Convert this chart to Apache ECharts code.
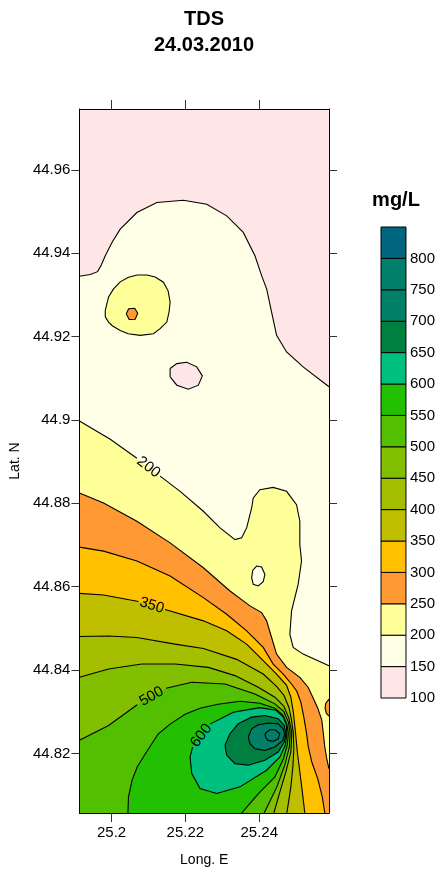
<!DOCTYPE html>
<html><head><meta charset="utf-8">
<script src="https://cdn.jsdelivr.net/npm/echarts@6/dist/echarts.min.js"></script>
<style>html,body{margin:0;padding:0;background:#fff}#c{width:438px;height:872px}</style>
</head><body><div id="c"></div>
<script>
// ---------- data ----------
const LON_RANGE = [25.1913, 25.2589];
const LAT_RANGE = [44.8057, 44.9746];
const LON_TICKS = [25.2, 25.22, 25.24];
const LAT_TICKS = [44.82, 44.84, 44.86, 44.88, 44.9, 44.92, 44.94, 44.96];
const LEVEL_BOUNDS = [100,150,200,250,300,350,400,450,500,550,600,650,700,750,800,850];
const BAR_LABELS = [100,150,200,250,300,350,400,450,500,550,600,650,700,750,800];
const BAND_COLORS = ['#FFE6E6','#FFFFE8','#FFFF99','#FF9933','#FFC000','#BFBF00','#A3BF00','#82BF00','#52BF00','#22C000','#00C080','#008040','#008066','#007F6A','#006680'];

// contour lines [lon, lat]
const C150 = [[25.1913,44.93448],[25.19424,44.93491],[25.19622,44.93558],[25.19722,44.93718],[25.19830,44.93940],[25.20019,44.94268],[25.20235,44.94578],[25.20686,44.94977],[25.21227,44.95216],[25.21946,44.95271],[25.22578,44.95176],[25.23119,44.94896],[25.23568,44.94499],[25.23884,44.93940],[25.24065,44.93462],[25.24200,44.93145],[25.24335,44.92588],[25.24470,44.92029],[25.24741,44.91632],[25.25189,44.91274],[25.2589,44.90796]];
const HOLE_LT150 = [[25.21586,44.91233],[25.21768,44.91352],[25.22038,44.91383],[25.22308,44.91274],[25.22459,44.91058],[25.22351,44.90834],[25.22081,44.90738],[25.21768,44.90834],[25.21586,44.91035]];
const ISLAND200 = [[25.19830,44.92626],[25.19919,44.92953],[25.20054,44.93145],[25.20235,44.93312],[25.20459,44.93424],[25.20695,44.93479],[25.20957,44.93479],[25.21181,44.93431],[25.21405,44.93305],[25.21532,44.93097],[25.21586,44.92827],[25.21559,44.92595],[25.21497,44.92349],[25.21316,44.92189],[25.21135,44.92069],[25.20776,44.92029],[25.20451,44.92069],[25.20235,44.92148],[25.20019,44.92260],[25.19919,44.92349],[25.19830,44.92476]];
const DOT250 = [[25.20397,44.92547],[25.20465,44.92667],[25.20627,44.92679],[25.20708,44.92559],[25.20641,44.92416],[25.20478,44.92411]];
const C200 = [[25.1913,44.89974],[25.19965,44.89536],[25.20686,44.89082],[25.21316,44.88652],[25.21857,44.88287],[25.22487,44.87809],[25.22938,44.87410],[25.23343,44.87130],[25.23524,44.87171],[25.23659,44.87410],[25.23795,44.87888],[25.23838,44.88127],[25.24019,44.88325],[25.24378,44.88382],[25.24741,44.88287],[25.25011,44.87967],[25.25100,44.87570],[25.25100,44.87011],[25.25146,44.86614],[25.25054,44.86055],[25.24876,44.85419],[25.24830,44.84860],[25.24919,44.84542],[25.25189,44.84382],[25.2589,44.84105]];
const HOLE_LT200 = [[25.23822,44.86389],[25.23930,44.86495],[25.24065,44.86471],[25.24154,44.86294],[25.24108,44.86119],[25.23973,44.86017],[25.23838,44.86055],[25.23795,44.86215]];
const C250 = [[25.1913,44.88246],[25.19784,44.88007],[25.20686,44.87570],[25.21586,44.87051],[25.22487,44.86454],[25.23208,44.85897],[25.23749,44.85539],[25.24065,44.85379],[25.24200,44.85180],[25.24335,44.84781],[25.24470,44.84382],[25.24741,44.84064],[25.25100,44.83825],[25.25324,44.83587],[25.25451,44.83348],[25.25586,44.83085],[25.25695,44.82798],[25.25735,44.82487],[25.25776,44.82153],[25.25830,44.81866],[25.2589,44.81627]];
const BUMP250 = [[25.2589,44.83300],[25.25803,44.83204],[25.25784,44.83085],[25.25816,44.82965],[25.2589,44.82894]];
const C300 = [[25.1913,44.86949],[25.19784,44.86853],[25.20686,44.86614],[25.21586,44.86256],[25.22487,44.85737],[25.23119,44.85338],[25.23659,44.84941],[25.24108,44.84542],[25.24378,44.84143],[25.24649,44.83904],[25.24876,44.83665],[25.25019,44.83491],[25.25127,44.83228],[25.25208,44.82870],[25.25281,44.82487],[25.25330,44.82153],[25.25424,44.81794],[25.25586,44.81388],[25.25708,44.80958],[25.25776,44.8057]];
const C350 = [[25.1913,44.85840],[25.19784,44.85802],[25.20730,44.85646],[25.21451,44.85450],[25.22487,44.85180],[25.23119,44.84941],[25.23659,44.84621],[25.24108,44.84225],[25.24470,44.83904],[25.24741,44.83634],[25.24857,44.83348],[25.24924,44.82989],[25.24984,44.82487],[25.25032,44.82033],[25.25100,44.81556],[25.25168,44.81078],[25.25235,44.8057]];
const C400 = [[25.1913,44.84805],[25.19919,44.84817],[25.20686,44.84781],[25.21722,44.84621],[25.22487,44.84518],[25.23389,44.84256],[25.24108,44.83904],[25.24470,44.83610],[25.24668,44.83395],[25.24803,44.83109],[25.24870,44.82822],[25.24924,44.82487],[25.24938,44.82105],[25.24911,44.81675],[25.24857,44.81197],[25.24749,44.8057]];
const C450 = [[25.1913,44.83825],[25.19919,44.84024],[25.20822,44.84143],[25.21722,44.84143],[25.22622,44.84064],[25.23343,44.83866],[25.23973,44.83587],[25.24424,44.83348],[25.24668,44.83132],[25.24803,44.82846],[25.24884,44.82487],[25.24857,44.82033],[25.24722,44.81556],[25.24560,44.81078],[25.24397,44.8057]];
const C500 = [[25.1913,44.82313],[25.19919,44.82671],[25.20695,44.83168],[25.21478,44.83563],[25.22173,44.83706],[25.23073,44.83665],[25.23884,44.83426],[25.24424,44.83188],[25.24668,44.83001],[25.24789,44.82750],[25.24838,44.82487],[25.24816,44.82153],[25.24695,44.81723],[25.24478,44.81197],[25.24135,44.8057]];
const C550 = [[25.20443,44.8057],[25.20459,44.80958],[25.20559,44.81364],[25.20695,44.81675],[25.20911,44.81986],[25.21262,44.82464],[25.21586,44.82702],[25.21992,44.82941],[25.22397,44.83085],[25.22884,44.83180],[25.23478,44.83252],[25.24019,44.83204],[25.24424,44.83085],[25.24641,44.82918],[25.24749,44.82702],[25.24789,44.82487],[25.24762,44.82201],[25.24654,44.81866],[25.24424,44.81436],[25.23973,44.81030],[25.23524,44.8057]];
const C600 = [[25.22127,44.81914],[25.22195,44.82153],[25.22668,44.82702],[25.23297,44.82989],[25.24019,44.83097],[25.24451,44.83037],[25.24654,44.82870],[25.24735,44.82678],[25.24749,44.82487],[25.24708,44.82201],[25.24560,44.81914],[25.24200,44.81596],[25.23478,44.81197],[25.22849,44.81037],[25.22397,44.81156],[25.22173,44.81515]];
const C650 = [[25.23073,44.82194],[25.23208,44.82471],[25.23432,44.82710],[25.23795,44.82870],[25.24154,44.82910],[25.24514,44.82829],[25.24681,44.82671],[25.24722,44.82471],[25.24681,44.82272],[25.24514,44.82033],[25.24154,44.81835],[25.23703,44.81716],[25.23343,44.81754],[25.23119,44.81955]];
const C700 = [[25.23703,44.82392],[25.23795,44.82590],[25.23973,44.82686],[25.24243,44.82726],[25.24514,44.82710],[25.24649,44.82590],[25.24687,44.82471],[25.24641,44.82313],[25.24424,44.82153],[25.24154,44.82074],[25.23884,44.82112],[25.23749,44.82232]];
const C750 = [[25.24154,44.82471],[25.24289,44.82566],[25.24424,44.82566],[25.24560,44.82471],[25.24514,44.82351],[25.24378,44.82289],[25.24227,44.82313],[25.24173,44.82392]];

// ---------- build ----------
const FONT = "'Liberation Sans', Arial, sans-serif";
function colorOf(level){ return BAND_COLORS[LEVEL_BOUNDS.indexOf(level)]; }
const CORNER_BR = [LON_RANGE[1], LAT_RANGE[0]];
const CORNER_BL = [LON_RANGE[0], LAT_RANGE[0]];
const FILLS = [
  {pts:C150, level:150, tail:[CORNER_BR, CORNER_BL]},
  {pts:HOLE_LT150, level:100},
  {pts:C200, level:200, tail:[CORNER_BR, CORNER_BL]},
  {pts:ISLAND200, level:200},
  {pts:HOLE_LT200, level:150},
  {pts:C250, level:250, tail:[CORNER_BR, CORNER_BL]},
  {pts:DOT250, level:250},
  {pts:BUMP250, level:250},
  {pts:C300, level:300, tail:[CORNER_BL]},
  {pts:C350, level:350, tail:[CORNER_BL]},
  {pts:C400, level:400, tail:[CORNER_BL]},
  {pts:C450, level:450, tail:[CORNER_BL]},
  {pts:C500, level:500, tail:[CORNER_BL]},
  {pts:C550, level:550},
  {pts:C600, level:600},
  {pts:C650, level:650},
  {pts:C700, level:700},
  {pts:C750, level:750}
];
const LINES = [
  {pts:C150}, {pts:HOLE_LT150, closed:true}, {pts:C200, gap:2, label:'200'},
  {pts:ISLAND200, closed:true}, {pts:HOLE_LT200, closed:true}, {pts:C250},
  {pts:DOT250, closed:true}, {pts:BUMP250}, {pts:C300}, {pts:C350, gap:2, label:'350'},
  {pts:C400}, {pts:C450}, {pts:C500, gap:2, label:'500'}, {pts:C550},
  {pts:C600, closed:true, gap:1, label:'600'}, {pts:C650, closed:true},
  {pts:C700, closed:true}, {pts:C750, closed:true}
];

function renderFill(params, api){
  const f = FILLS[params.dataIndex];
  const pts = f.pts.concat(f.tail || []).map(p => api.coord(p));
  return {type:'polygon', shape:{points:pts}, style:{fill:colorOf(f.level)}};
}
function renderLine(params, api){
  const l = LINES[params.dataIndex];
  const px = l.pts.map(p => api.coord(p));
  const style = {stroke:'#000', lineWidth:1.1, fill:null};
  const children = [];
  if (l.gap == null){
    children.push({type:'polyline', shape:{points: l.closed ? px.concat([px[0]]) : px}, style});
  } else {
    const g = l.gap;
    const parts = l.closed ? [px.slice(g+1).concat(px.slice(0, g+1))] : [px.slice(0, g+1), px.slice(g+1)];
    parts.forEach(pp => children.push({type:'polyline', shape:{points:pp}, style}));
    const a = px[g], b = px[g+1];
    children.push({type:'text', x:(a[0]+b[0])/2, y:(a[1]+b[1])/2,
      rotation: -Math.atan2(b[1]-a[1], b[0]-a[0]),
      style:{text:l.label, fill:'#000', font:'15px ' + FONT, align:'center', verticalAlign:'middle'}});
  }
  return {type:'group', children};
}
const fmt = v => String(Math.round(v*100)/100);
const tickStyle = {color:'#333', width:1};
const lineStyle = {color:'#000', width:1};

const option = {
  animation: false,
  backgroundColor: '#fff',
  title: [
    {text:'TDS\n24.03.2010', left:204, top:6, textAlign:'center', padding:0,
     textStyle:{fontSize:20, fontWeight:'bold', lineHeight:26, color:'#000', fontFamily:FONT}},
    {text:'mg/L', left:396, top:190, textAlign:'center', padding:0,
     textStyle:{fontSize:20, fontWeight:'bold', lineHeight:20, color:'#000', fontFamily:FONT}}
  ],
  grid: [
    {left:79, top:109, width:250, height:707, show:true, borderWidth:0, backgroundColor:BAND_COLORS[0]},
    {left:381, top:227, width:26, height:471}
  ],
  xAxis: [
    {gridIndex:0, type:'value', min:LON_RANGE[0], max:LON_RANGE[1], position:'bottom', z:10,
     axisLine:{show:true, onZero:false, lineStyle}, splitLine:{show:false},
     axisTick:{show:true, inside:false, length:9, customValues:LON_TICKS, lineStyle:tickStyle},
     axisLabel:{customValues:LON_TICKS, formatter:fmt, fontSize:15, color:'#000', margin:12, fontFamily:FONT},
     name:'Long. E', nameLocation:'middle', nameGap:40, nameTextStyle:{fontSize:14, color:'#000', fontFamily:FONT}},
    {gridIndex:0, type:'value', min:LON_RANGE[0], max:LON_RANGE[1], position:'top', z:10,
     axisLine:{show:true, onZero:false, lineStyle}, splitLine:{show:false},
     axisTick:{show:true, inside:false, length:9, customValues:LON_TICKS, lineStyle:tickStyle},
     axisLabel:{show:false}},
    {gridIndex:1, type:'value', min:0, max:1, show:false}
  ],
  yAxis: [
    {gridIndex:0, type:'value', min:LAT_RANGE[0], max:LAT_RANGE[1], position:'left', z:10,
     axisLine:{show:true, onZero:false, lineStyle}, splitLine:{show:false},
     axisTick:{show:true, inside:false, length:8, customValues:LAT_TICKS, lineStyle:tickStyle},
     axisLabel:{customValues:LAT_TICKS, formatter:fmt, fontSize:15, color:'#000', margin:9, fontFamily:FONT},
     name:'Lat. N', nameLocation:'middle', nameGap:48, nameTextStyle:{fontSize:14, color:'#000', fontFamily:FONT}},
    {gridIndex:0, type:'value', min:LAT_RANGE[0], max:LAT_RANGE[1], position:'right', z:10,
     axisLine:{show:true, onZero:false, lineStyle}, splitLine:{show:false},
     axisTick:{show:true, inside:false, length:8, customValues:LAT_TICKS, lineStyle:tickStyle},
     axisLabel:{show:false}},
    {gridIndex:1, type:'value', min:LEVEL_BOUNDS[0], max:LEVEL_BOUNDS[LEVEL_BOUNDS.length-1], position:'right',
     axisLine:{show:false}, axisTick:{show:false}, splitLine:{show:false},
     axisLabel:{customValues:BAR_LABELS, fontSize:15, color:'#000', margin:4, fontFamily:FONT}}
  ],
  series: [
    {type:'custom', xAxisIndex:0, yAxisIndex:0, clip:true, silent:true,
     data: FILLS.map(f => f.pts[0]), renderItem: renderFill, z:2},
    {type:'custom', xAxisIndex:0, yAxisIndex:0, clip:true, silent:true,
     data: LINES.map(l => l.pts[0]), renderItem: renderLine, z:3},
    {type:'custom', xAxisIndex:2, yAxisIndex:2, silent:true,
     data: BAND_COLORS.map((c, i) => [0, LEVEL_BOUNDS[i]]),
     renderItem: (params, api) => {
       const i = params.dataIndex;
       const p0 = api.coord([0, LEVEL_BOUNDS[i+1]]);
       const p1 = api.coord([1, LEVEL_BOUNDS[i]]);
       return {type:'rect', shape:{x:p0[0], y:p0[1], width:p1[0]-p0[0], height:p1[1]-p0[1]},
               style:{fill:BAND_COLORS[i], stroke:'#000', lineWidth:1}};
     }}
  ]
};
const chart = echarts.init(document.getElementById('c'));
chart.setOption(option);
</script>
</body></html>
